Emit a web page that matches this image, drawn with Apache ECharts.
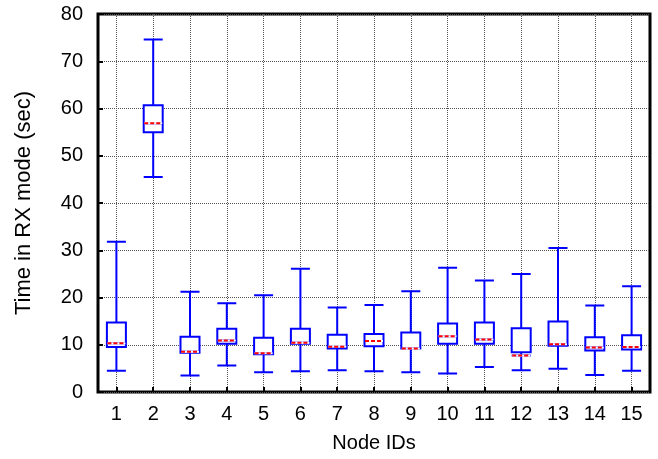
<!DOCTYPE html>
<html>
<head>
<meta charset="utf-8">
<script src="https://cdn.jsdelivr.net/npm/echarts@6/dist/echarts.min.js"></script>
<style>
  html, body { margin: 0; padding: 0; background: #fff; }
  #chart { width: 658px; height: 459px; }
</style>
</head>
<body>
<div id="chart"></div>
<script>
// node ids on the x axis
var nodeIds = ["1", "2", "3", "4", "5", "6", "7", "8", "9", "10", "11", "12", "13", "14", "15"];
// box statistics per node
var lowWhisker = [4.5, 45.5, 3.5, 5.6, 4.2, 4.4, 4.6, 4.4, 4.2, 3.9, 5.3, 4.6, 4.9, 3.6, 4.5];
var q1 = [9.5, 55.0, 8.3, 10.2, 8.0, 10.2, 9.2, 9.7, 9.2, 10.2, 10.2, 8.4, 9.8, 8.8, 9.0];
var median = [10.3, 56.9, 8.5, 10.9, 8.2, 10.4, 9.6, 10.8, 9.2, 11.8, 11.1, 7.7, 10.1, 9.4, 9.5];
var q3 = [14.7, 60.7, 11.7, 13.4, 11.5, 13.4, 12.1, 12.3, 12.6, 14.5, 14.7, 13.5, 14.9, 11.6, 12.0];
var highWhisker = [31.8, 74.6, 21.2, 18.8, 20.5, 26.1, 17.9, 18.4, 21.3, 26.3, 23.6, 25.0, 30.5, 18.3, 22.4];
var yTicks = [0, 10, 20, 30, 40, 50, 60, 70, 80];

var boxData = nodeIds.map(function (id, i) {
  return [lowWhisker[i], q1[i], median[i], q3[i], highWhisker[i]];
});
var medianData = nodeIds.map(function (id, i) {
  return [i, median[i]];
});

var font = "Liberation Sans";
var myChart = echarts.init(document.getElementById("chart"));
var option = {
  animation: false,
  grid: {
    left: 98,
    right: 8,
    top: 14,
    bottom: 67,
    show: true,
    borderColor: "#000",
    borderWidth: 3,
  },
  xAxis: {
    type: "category",
    data: nodeIds,
    name: "Node IDs",
    nameLocation: "middle",
    nameGap: 41,
    nameTextStyle: { fontFamily: font, fontSize: 20, color: "#000" },
    axisLine: { show: false },
    axisTick: { show: true, inside: true, alignWithLabel: true, length: 5, lineStyle: { color: "#000", width: 2 } },
    axisLabel: { fontFamily: font, fontSize: 20, color: "#000", margin: 12 },
    splitLine: { show: true, alignWithLabel: true, lineStyle: { color: "#555", type: "dotted", width: 1 } },
  },
  yAxis: {
    type: "value",
    min: yTicks[0],
    max: yTicks[yTicks.length - 1],
    interval: 10,
    name: "Time in RX mode (sec)",
    nameLocation: "middle",
    nameGap: 63,
    nameTextStyle: { fontFamily: font, fontSize: 22, color: "#000" },
    axisLine: { show: false },
    axisTick: { show: true, inside: true, length: 5, lineStyle: { color: "#000", width: 2 } },
    axisLabel: { fontFamily: font, fontSize: 20, color: "#000", margin: 15 },
    splitLine: { show: true, lineStyle: { color: "#555", type: "dotted", width: 1 } },
  },
  series: [
    {
      type: "boxplot",
      data: boxData,
      boxWidth: [19, 19],
      itemStyle: { color: "#fff", borderColor: "#0000ff", borderWidth: 2 },
      z: 3,
    },
    {
      // red dashed median marks
      type: "custom",
      data: medianData,
      z: 5,
      renderItem: function (params, api) {
        var p = api.coord([api.value(0), api.value(1)]);
        var hw = 9;
        var shape = { x1: p[0] - hw, y1: p[1], x2: p[0] + hw, y2: p[1] };
        return {
          type: "group",
          children: [
            { type: "line", shape: shape, style: { stroke: "#fff", lineWidth: 2 } },
            { type: "line", shape: shape, style: { stroke: "#ff0000", lineWidth: 2, lineDash: [4, 2] } },
          ],
        };
      },
    },
  ],
};
myChart.setOption(option);
</script>
</body>
</html>
